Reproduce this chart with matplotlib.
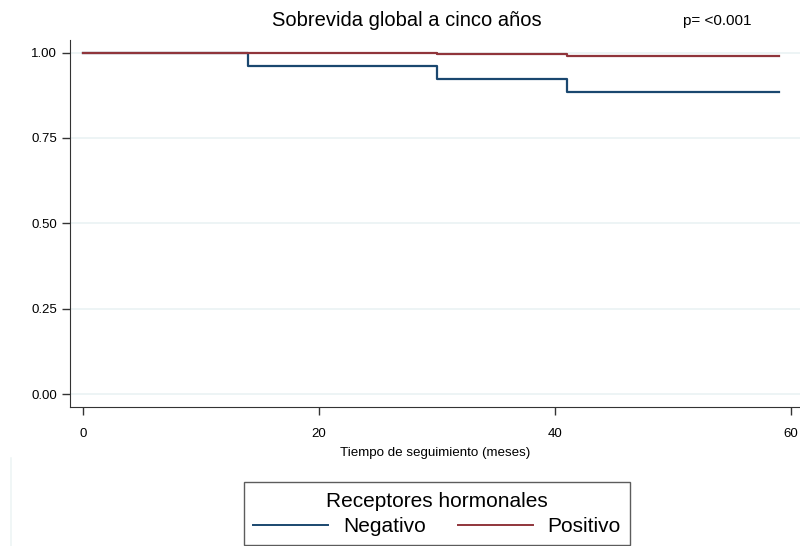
import matplotlib.pyplot as plt
from matplotlib.lines import Line2D

plt.rcParams['font.family'] = ['Liberation Sans', 'DejaVu Sans']

# Kaplan-Meier estimates (months, survival)
neg_time = [0, 14, 30, 41, 59]
neg_surv = [1.0, 0.962, 0.923, 0.884, 0.884]
pos_time = [0, 30, 41, 59]
pos_surv = [1.0, 0.996, 0.990, 0.990]

y_ticks = [0.00, 0.25, 0.50, 0.75, 1.00]
x_ticks = [0, 20, 40, 60]

navy = '#1a476f'
maroon = '#90353b'

fig = plt.figure(figsize=(8, 5.46), dpi=100)
# axes from x=70px to 800px, y=40px to 407px
ax = fig.add_axes([70 / 800, 1 - 407 / 546, 730 / 800, 367 / 546])

ax.step(neg_time, neg_surv, where='post', color=navy, lw=1.6, label='Negativo')
ax.step(pos_time, pos_surv, where='post', color=maroon, lw=1.6, label='Positivo')

ax.set_xlim(-1.1, 60.76)
ax.set_ylim(-0.038, 1.037)
ax.set_yticks(y_ticks)
ax.set_yticklabels(['%.2f' % v for v in y_ticks])
ax.set_xticks(x_ticks)
ax.grid(axis='y', color='#eaf2f3', lw=1.2)
ax.set_axisbelow(True)

for s in ['top', 'right']:
    ax.spines[s].set_visible(False)
ax.spines['left'].set_color('#333333')
ax.spines['bottom'].set_color('#333333')
ax.tick_params(axis='both', labelsize=9.5, color='#333333', length=6, width=1)
ax.tick_params(axis='x', pad=9)

ax.set_xlabel('Tiempo de seguimiento (meses)', fontsize=9.6, labelpad=5)

fig.text(407 / 800, 1 - 21 / 546, 'Sobrevida global a cinco años', fontsize=14.5,
         ha='center', va='center')
fig.text(683 / 800, 1 - 21 / 546, 'p= <0.001', fontsize=11, ha='left', va='center')

# faint edge line at lower left
fig.add_artist(Line2D([11 / 800, 11 / 800], [0, 1 - 458 / 546], color='#eef5f5', lw=1.2))

leg = fig.legend(loc='upper center', bbox_to_anchor=(437 / 800, 1 - 472 / 546), ncol=2,
                 title='Receptores hormonales', fontsize=15, title_fontsize=15,
                 frameon=True, fancybox=False, edgecolor='#333333',
                 handlelength=3.6, handletextpad=0.7, columnspacing=1.55,
                 borderpad=0.45, labelspacing=0.3)
leg.get_frame().set_linewidth(1)
for h in leg.legend_handles:
    h.set_linewidth(1.4)

plt.savefig('out.png', dpi=100)
